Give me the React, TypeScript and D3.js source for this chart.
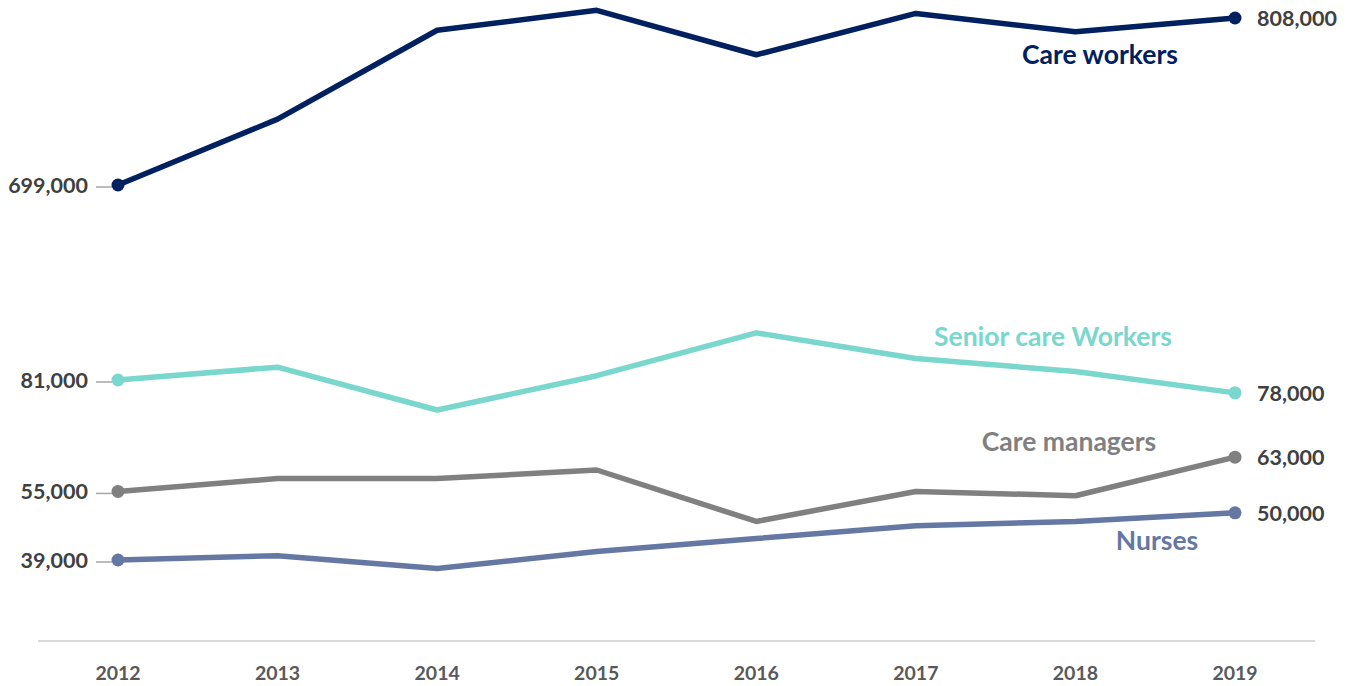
import React, { useEffect, useRef } from "react";
import * as d3 from "d3";

const years = ["2012", "2013", "2014", "2015", "2016", "2017", "2018", "2019"];

const careWorkers = [699000, 742000, 800000, 813000, 784000, 811000, 799000, 808000];
const seniorCareWorkers = [81000, 84000, 74000, 82000, 92000, 86000, 83000, 78000];
const careManagers = [55000, 58000, 58000, 60000, 48000, 55000, 54000, 63000];
const nurses = [39000, 40000, 37000, 41000, 44000, 47000, 48000, 50000];

const seriesNames = ["Care workers", "Senior care Workers", "Care managers", "Nurses"];
const seriesColors = ["#002060", "#79d7cd", "#808080", "#6577a3"];

const App = () => {
  const ref = useRef<SVGSVGElement>(null);

  useEffect(() => {
    const width = 1351;
    const height = 686;
    const svg = d3.select(ref.current);
    svg.selectAll("*").remove();
    svg.attr("width", width).attr("height", height);

    const font = "Lato, 'Open Sans', sans-serif";

    const x = d3.scalePoint().domain(years).range([118, 1235]);
    // broken axis: the care workers line has its own scale
    const yTop = d3.scaleLinear().domain([699000, 808000]).range([185, 18]);
    const yLow = d3.scaleLinear().domain([39000, 81000]).range([560, 380]);

    const fmt = d3.format(",");

    // x axis
    svg
      .append("line")
      .attr("x1", 38)
      .attr("x2", 1315)
      .attr("y1", 641)
      .attr("y2", 641)
      .attr("stroke", "#d9d9d9")
      .attr("stroke-width", 2);

    svg
      .selectAll(".year")
      .data(years)
      .enter()
      .append("text")
      .attr("x", (d) => x(d)!)
      .attr("y", 680)
      .attr("text-anchor", "middle")
      .attr("font-family", font)
      .attr("font-weight", 700)
      .attr("font-size", 19.5)
      .attr("fill", "#595959")
      .text((d) => d);

    const series = [
      { name: seriesNames[0], values: careWorkers, y: yTop, color: seriesColors[0], lx: 1100, ly: 64 },
      { name: seriesNames[1], values: seniorCareWorkers, y: yLow, color: seriesColors[1], lx: 1053, ly: 346 },
      { name: seriesNames[2], values: careManagers, y: yLow, color: seriesColors[2], lx: 1069, ly: 451 },
      { name: seriesNames[3], values: nurses, y: yLow, color: seriesColors[3], lx: 1157, ly: 550 },
    ];

    series.forEach((s) => {
      const line = d3
        .line<number>()
        .x((_, i) => x(years[i])!)
        .y((v) => s.y(v));

      const first = s.values[0];
      const last = s.values[s.values.length - 1];

      // leader tick to the left label
      svg
        .append("line")
        .attr("x1", 96)
        .attr("x2", 112)
        .attr("y1", s.y(first) + 2)
        .attr("y2", s.y(first) + 2)
        .attr("stroke", "#a6a6a6")
        .attr("stroke-width", 1.5);

      svg
        .append("path")
        .attr("d", line(s.values))
        .attr("fill", "none")
        .attr("stroke", s.color)
        .attr("stroke-width", 5.5)
        .attr("stroke-linejoin", "round");

      [0, s.values.length - 1].forEach((i) => {
        svg
          .append("circle")
          .attr("cx", x(years[i])!)
          .attr("cy", s.y(s.values[i]))
          .attr("r", 6.5)
          .attr("fill", s.color);
      });

      svg
        .append("text")
        .attr("x", 88)
        .attr("y", s.y(first) + 8)
        .attr("text-anchor", "end")
        .attr("font-family", font)
        .attr("font-weight", 700)
        .attr("font-size", 21.5)
        .attr("fill", "#404040")
        .text(fmt(first));

      svg
        .append("text")
        .attr("x", 1257)
        .attr("y", s.y(last) + 8)
        .attr("font-family", font)
        .attr("font-weight", 700)
        .attr("font-size", 21.5)
        .attr("fill", "#404040")
        .text(fmt(last));

      svg
        .append("text")
        .attr("x", s.lx)
        .attr("y", s.ly)
        .attr("text-anchor", "middle")
        .attr("font-family", font)
        .attr("font-weight", 700)
        .attr("font-size", 26.5)
        .attr("fill", s.color)
        .text(s.name);
    });
  }, []);

  return <svg ref={ref} style={{ position: "absolute", left: 0, top: 0 }}></svg>;
};

export default App;
